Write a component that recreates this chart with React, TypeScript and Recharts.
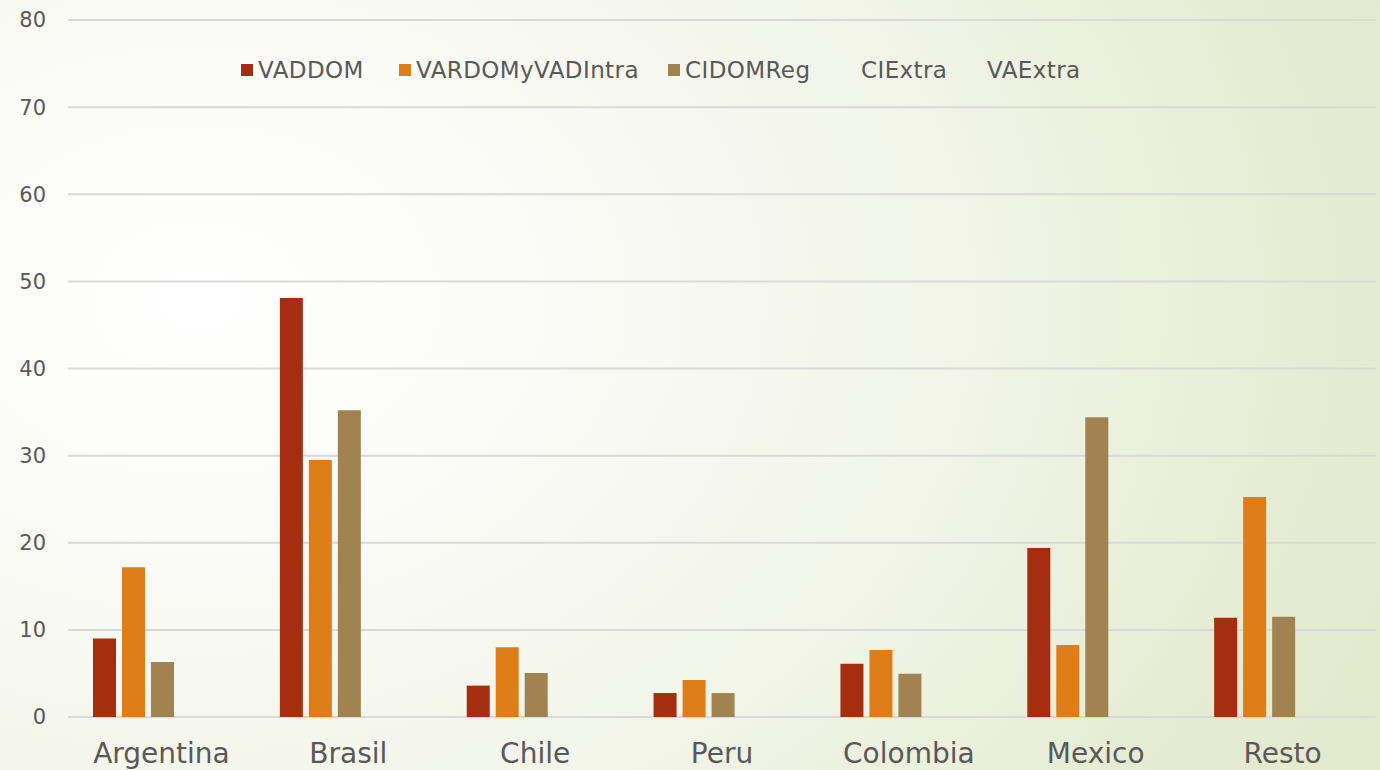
import React from "react";
import { BarChart, Bar, XAxis, YAxis, CartesianGrid } from "recharts";

const categories = ["Argentina", "Brasil", "Chile", "Peru", "Colombia", "Mexico", "Resto"];
const vaddom = [9.0, 48.1, 3.6, 2.75, 6.1, 19.4, 11.4];
const vardomyvadintra = [17.2, 29.5, 8.0, 4.25, 7.7, 8.27, 25.25];
const cidomreg = [6.3, 35.2, 5.05, 2.75, 4.95, 34.4, 11.5];
const ciextra: (number | null)[] = [null, null, null, null, null, null, null];
const vaextra: (number | null)[] = [null, null, null, null, null, null, null];
const yTicks = [0, 10, 20, 30, 40, 50, 60, 70, 80];

const seriesNames = ["VADDOM", "VARDOMyVADIntra", "CIDOMReg", "CIExtra", "VAExtra"];
const seriesColors = ["#a52e10", "#df7e18", "#a08350", "transparent", "transparent"];

const data = categories.map((c, i) => ({
  name: c,
  VADDOM: vaddom[i],
  VARDOMyVADIntra: vardomyvadintra[i],
  CIDOMReg: cidomreg[i],
  CIExtra: ciextra[i],
  VAExtra: vaextra[i],
}));

const FONT = "'DejaVu Sans', sans-serif";

const legendX = [241, 399, 668, 844, 970];

const LegendBox = () => (
  <div style={{ position: "absolute", left: 0, top: 57, width: 1380, height: 30, pointerEvents: "none" }}>
    {seriesNames.map((n, i) => (
      <div
        key={n}
        style={{
          position: "absolute",
          left: legendX[i],
          top: 0,
          display: "flex",
          alignItems: "center",
          fontFamily: FONT,
          fontSize: 23,
          letterSpacing: 0.4,
          color: "#595959",
          whiteSpace: "nowrap",
        }}
      >
        <span style={{ display: "inline-block", width: 12, height: 12, background: seriesColors[i], marginRight: 5 }} />
        <span>{n}</span>
      </div>
    ))}
  </div>
);

export default function App() {
  return (
    <div
      style={{
        position: "absolute",
        left: 0,
        top: 0,
        width: 1380,
        height: 770,
        overflow: "hidden",
        background:
          "radial-gradient(ellipse 1500px 1100px at 200px 300px, #ffffff 0%, #fbfbf8 20%, #f2f5e8 50%, #e6ecd3 75%, #dfe6c6 100%)",
      }}
    >
      <BarChart
        width={1380}
        height={770}
        data={data}
        margin={{ top: 20, right: 4, left: 0, bottom: 0 }}
        barCategoryGap={25}
        barGap={6}
      >
        <CartesianGrid vertical={false} stroke="#d9d9d9" strokeWidth={2} />
        <XAxis
          dataKey="name"
          axisLine={false}
          tickLine={false}
          tickSize={0}
          tickMargin={26}
          height={53}
          interval={0}
          tick={{ fill: "#595959", fontSize: 28, fontFamily: FONT }}
        />
        <YAxis
          domain={[0, 80]}
          ticks={yTicks}
          axisLine={false}
          tickLine={false}
          tickSize={0}
          tickMargin={22}
          width={68}
          tick={{ fill: "#595959", fontSize: 21, fontFamily: FONT }}
        />
        {seriesNames.map((n, i) => (
          <Bar key={n} dataKey={n} fill={seriesColors[i]} isAnimationActive={false} />
        ))}
      </BarChart>
      <LegendBox />
    </div>
  );
}
